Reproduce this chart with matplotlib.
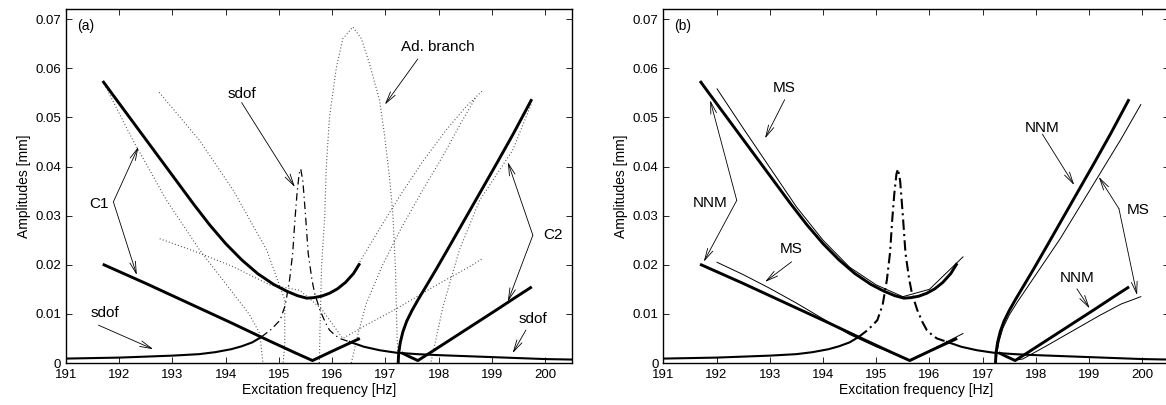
import numpy as np
import matplotlib.pyplot as plt

plt.rcParams['font.family'] = ['Liberation Sans', 'DejaVu Sans']
plt.rcParams['font.size'] = 9.5

# ---- data (Hz, mm) ----
# upper C1 branch (NNM)
c1u_x = [191.69, 191.9, 192.2, 192.5, 192.8, 193.1, 193.4, 193.7, 194.0, 194.3, 194.6,
         194.9, 195.15, 195.35, 195.52, 195.65, 195.8, 195.95, 196.1, 196.25, 196.4, 196.52]
c1u_y = [0.0574, 0.0543, 0.0499, 0.0455, 0.0411, 0.0367, 0.0323, 0.0281, 0.0243, 0.0210,
         0.0182, 0.0160, 0.0146, 0.0137, 0.0132, 0.0133, 0.0136, 0.0142, 0.0151, 0.0164,
         0.0182, 0.0203]
# lower C1 branch (NNM)
c1l_x = [191.69, 192.5, 193.3, 194.08, 194.8, 195.3, 195.63, 196.0, 196.52]
c1l_y = [0.0201, 0.0162, 0.0122, 0.0083, 0.0046, 0.0021, 0.0005, 0.0024, 0.0050]
# upper C2 branch (NNM)
c2u_x = [197.24, 197.25, 197.28, 197.33, 197.4, 197.5, 197.62, 197.78, 197.95, 198.2,
         198.5, 198.8, 199.1, 199.4, 199.75]
c2u_y = [0.0, 0.0020, 0.0042, 0.0064, 0.0085, 0.0107, 0.0130, 0.0159, 0.0190, 0.0237,
         0.0294, 0.0351, 0.0408, 0.0466, 0.0537]
# lower C2 branch (NNM)
c2l_x = [197.3, 197.45, 197.61, 197.9, 198.3, 198.7, 199.1, 199.45, 199.75]
c2l_y = [0.0021, 0.0013, 0.0005, 0.0025, 0.0053, 0.0081, 0.0109, 0.0134, 0.0155]

# linear sdof response: stable left, unstable peak, stable tail
sd1_x = [191.0, 191.5, 192.0, 192.5, 193.0, 193.5, 193.8, 194.1, 194.3, 194.5, 194.67]
sd1_y = [0.0009, 0.0010, 0.0011, 0.0013, 0.0015, 0.0018, 0.0022, 0.0028, 0.0034, 0.0042, 0.0053]
sd2_x = [194.67, 194.85, 195.02, 195.12, 195.2, 195.26, 195.3, 195.34, 195.38, 195.41,
         195.45, 195.5, 195.55, 195.62, 195.67, 195.77, 195.87, 195.95, 196.05, 196.14, 196.33]
sd2_y = [0.0053, 0.0068, 0.0087, 0.0118, 0.0169, 0.0225, 0.0291, 0.0345, 0.0385, 0.0395,
         0.0370, 0.0300, 0.0223, 0.0170, 0.0142, 0.0108, 0.0083, 0.0067, 0.0057, 0.0050, 0.0043]
sd3_x = [196.33, 196.6, 196.89, 197.2, 197.6, 198.0, 198.5, 199.0, 199.5, 200.0, 200.5]
sd3_y = [0.0043, 0.0033, 0.0026, 0.0021, 0.0018, 0.0016, 0.0014, 0.0012, 0.0010, 0.0008, 0.0007]

# dotted branches of panel (a)
iso_x = [195.76, 195.77, 195.80, 195.86, 195.89, 195.95, 196.08, 196.2, 196.39, 196.55,
         196.7, 196.89, 196.98, 197.08, 197.14, 197.19, 197.22, 197.24]
iso_y = [0.0, 0.0061, 0.0196, 0.0297, 0.0399, 0.0501, 0.0602, 0.0660, 0.0684, 0.0660,
         0.0610, 0.0535, 0.0467, 0.0375, 0.0304, 0.0189, 0.0053, 0.0]
da_x = [196.52, 196.9, 197.3, 197.7, 198.14, 198.5, 198.83]
da_y = [0.0206, 0.0275, 0.0345, 0.0410, 0.0474, 0.0520, 0.0555]
db_x = [196.36, 196.5, 196.64, 196.95, 197.3, 197.7, 198.1, 198.4, 198.70]
db_y = [0.0, 0.0065, 0.0121, 0.0200, 0.0275, 0.0352, 0.0425, 0.0485, 0.0541]
dc_x = [191.69, 192.26, 192.89, 193.51, 194.14, 194.45, 194.64, 194.70]
dc_y = [0.0574, 0.0453, 0.0331, 0.0230, 0.0142, 0.0098, 0.0060, 0.0]
dd_x = [192.75, 193.51, 194.14, 194.77, 195.11, 195.11, 195.08]
dd_y = [0.0551, 0.0453, 0.0352, 0.0230, 0.0128, 0.0040, 0.0]
de_x = [192.76, 193.5, 194.14, 194.83, 195.39, 195.8, 196.2, 196.6, 197.2, 197.9, 198.58, 198.83]
de_y = [0.0253, 0.0224, 0.0196, 0.0159, 0.0148, 0.0110, 0.0050, 0.0075, 0.0110, 0.0155, 0.0196, 0.0213]
dg_x = [197.86, 198.08, 198.39, 198.77, 199.39, 199.67, 199.75]
dg_y = [0.0003, 0.0114, 0.0230, 0.0331, 0.0433, 0.0508, 0.0530]

# multiple scales approximation, panel (b)
msu1_x = [192.01, 192.5, 193.0, 193.5, 194.0, 194.5, 195.0, 195.5, 196.0, 196.63]
msu1_y = [0.0558, 0.0478, 0.0398, 0.0318, 0.0250, 0.0195, 0.0159, 0.0135, 0.0150, 0.0216]
msl1_x = [192.01, 192.5, 193.0, 193.5, 194.0, 194.5, 195.0, 195.3, 195.62, 196.0, 196.63]
msl1_y = [0.0205, 0.0180, 0.0152, 0.0122, 0.0090, 0.0058, 0.0033, 0.0020, 0.0006, 0.0025, 0.0060]
msu2_x = [197.25, 197.27, 197.31, 197.38, 197.5, 197.65, 197.85, 198.1, 198.45, 198.8,
          199.2, 199.6, 199.97]
msu2_y = [0.0, 0.0022, 0.0045, 0.0071, 0.0098, 0.0124, 0.0156, 0.0196, 0.0252, 0.0314,
          0.0385, 0.0456, 0.0526]
msl2_x = [197.6, 197.75, 198.2, 198.7, 199.2, 199.6, 199.97]
msl2_y = [0.0006, 0.0008, 0.0035, 0.0066, 0.0097, 0.0120, 0.0135]

W, H = 1166, 405
fig = plt.figure(figsize=(W / 100, H / 100), dpi=100)
ax1 = fig.add_axes([66 / W, 42 / H, 505.7 / W, 353.7 / H])
ax2 = fig.add_axes([663.3 / W, 42 / H, 505.7 / W, 353.7 / H])

thick = dict(color='black', lw=2.1, solid_capstyle='butt', solid_joinstyle='round')
dots = dict(color='0.3', lw=0.8, ls=(0, (0.9, 2.0)))

# panel (a)
for xs, ys in [(iso_x, iso_y), (da_x, da_y), (db_x, db_y), (dc_x, dc_y),
               (dd_x, dd_y), (de_x, de_y), (dg_x, dg_y)]:
    ax1.plot(xs, ys, **dots)
ax1.plot(sd1_x, sd1_y, color='black', lw=1.5)
ax1.plot(sd2_x, sd2_y, color='black', lw=0.9, ls=(0, (6, 3, 1, 3)))
ax1.plot(sd3_x, sd3_y, color='black', lw=1.5)
for xs, ys in [(c1u_x, c1u_y), (c1l_x, c1l_y), (c2u_x, c2u_y), (c2l_x, c2l_y)]:
    ax1.plot(xs, ys, **thick)

# panel (b)
ax2.plot(sd1_x, sd1_y, color='black', lw=1.5)
ax2.plot(sd2_x, sd2_y, color='black', lw=1.5, ls=(0, (5, 2, 1, 2)))
ax2.plot(sd3_x, sd3_y, color='black', lw=1.5)
for xs, ys in [(msu1_x, msu1_y), (msl1_x, msl1_y), (msu2_x, msu2_y), (msl2_x, msl2_y)]:
    ax2.plot(xs, ys, color='black', lw=0.7)
for xs, ys in [(c1u_x, c1u_y), (c1l_x, c1l_y), (c2u_x, c2u_y), (c2l_x, c2l_y)]:
    ax2.plot(xs, ys, **thick)

arr = dict(arrowstyle='->,head_length=0.9,head_width=0.22', lw=0.6, color='black',
           shrinkA=0, shrinkB=0)


def note(ax, text, tx, ty, tips, start=None):
    ax.text(tx, ty, text, ha='center', va='center', fontsize=11)
    sx, sy = start if start else (tx, ty)
    for px, py in tips:
        ax.annotate('', xy=(px, py), xytext=(sx, sy), arrowprops=arr)


note(ax1, 'sdof', 194.3, 0.0547, [(195.30, 0.0358)], start=(194.3, 0.0530))
note(ax1, 'C1', 191.62, 0.0323, [(192.36, 0.0440), (192.33, 0.0179)], start=(191.89, 0.0328))
note(ax1, 'sdof', 191.73, 0.0101, [(192.64, 0.0028)], start=(191.61, 0.0077))
note(ax1, 'Ad. branch', 197.99, 0.0643, [(196.99, 0.0526)], start=(197.61, 0.0619))
note(ax1, 'C2', 200.14, 0.026, [(199.30, 0.0409), (199.30, 0.0125)], start=(199.77, 0.026))
note(ax1, 'sdof', 199.78, 0.0089, [(199.39, 0.0020)], start=(199.64, 0.0067))
ax1.text(191.2, 0.0685, '(a)', ha='left', va='center', fontsize=10)

note(ax2, 'MS', 193.28, 0.0560, [(192.91, 0.0457)], start=(193.28, 0.0536))
note(ax2, 'NNM', 191.88, 0.0325, [(191.88, 0.0535), (191.76, 0.0206)], start=(192.38, 0.0331))
note(ax2, 'MS', 193.41, 0.0232, [(192.91, 0.0165)], start=(193.41, 0.0206))
note(ax2, 'NNM', 198.12, 0.0479, [(198.72, 0.0362)], start=(198.12, 0.0466))
note(ax2, 'MS', 199.92, 0.0311, [(199.18, 0.0379), (199.90, 0.0138)], start=(199.56, 0.0314))
note(ax2, 'NNM', 198.77, 0.0174, [(199.01, 0.0111)], start=(198.77, 0.0151))
ax2.text(191.2, 0.0685, '(b)', ha='left', va='center', fontsize=10)

for ax in (ax1, ax2):
    ax.set_xlim(191, 200.5)
    ax.set_ylim(0, 0.072)
    ax.set_xticks(np.arange(191, 201, 1))
    ax.set_yticks(np.arange(0, 0.071, 0.01))
    ax.set_yticklabels(['0'] + ['%.2f' % v for v in np.arange(0.01, 0.071, 0.01)])
    ax.tick_params(direction='in', top=True, right=True, length=4, width=0.6)
    ax.tick_params(axis='x', pad=4.5)
    ax.tick_params(axis='y', pad=3.5)
    for s in ax.spines.values():
        s.set_linewidth(1.0)
    ax.set_xlabel('Excitation frequency [Hz]', fontsize=10, labelpad=1.5)
    ax.set_ylabel('Amplitudes [mm]', fontsize=10, labelpad=3)

fig.savefig('out.png', dpi=100)
